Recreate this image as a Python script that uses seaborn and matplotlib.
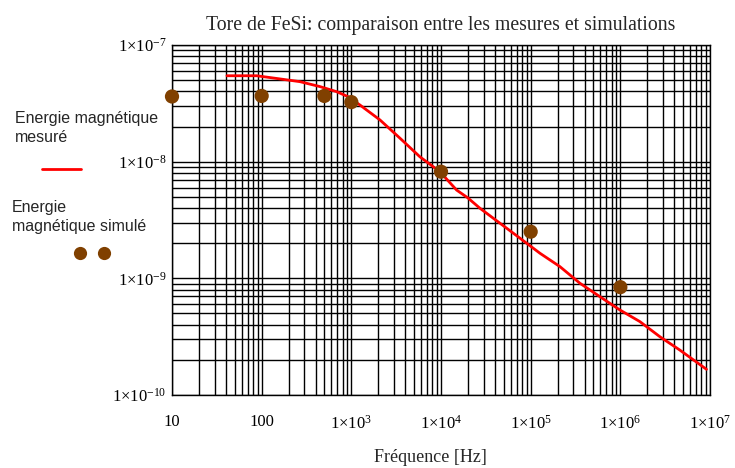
"""
Tore de FeSi: energie magnetique mesuree vs simulee (log-log)
"""

import matplotlib
matplotlib.use("Agg")
import matplotlib.pyplot as plt
import seaborn as sns
import pandas as pd
from matplotlib.lines import Line2D
from matplotlib.ticker import FixedLocator, FixedFormatter, LogLocator, NullFormatter

# measured curve
freq_mesure = [41, 88, 160, 267, 447, 686, 916, 1247, 2084, 3484, 5823, 9730,
               14930, 19950, 27150, 45400, 75900, 1.27e5, 2.12e5, 3.54e5,
               5.91e5, 9.87e5, 1.65e6, 2.76e6, 4.60e6, 9.14e6]
energie_mesure = [5.45e-8, 5.45e-8, 5.12e-8, 4.85e-8, 4.40e-8, 3.98e-8, 3.61e-8,
                  3.06e-8, 2.28e-8, 1.59e-8, 1.10e-8, 8.20e-9, 5.71e-9, 4.89e-9,
                  3.99e-9, 2.97e-9, 2.21e-9, 1.64e-9, 1.26e-9, 9.08e-10,
                  6.97e-10, 5.36e-10, 4.26e-10, 3.16e-10, 2.43e-10, 1.66e-10]

# simulated points
freq_simule = [10, 100, 500, 1000, 1e4, 1e5, 1e6]
energie_simule = [3.62e-8, 3.66e-8, 3.66e-8, 3.24e-8, 8.2e-9, 2.51e-9, 8.4e-10]

x_ticks = [10, 100, 1e3, 1e4, 1e5, 1e6, 1e7]
x_labels = ["10", "100", r"$1{\times}10^{3}$", r"$1{\times}10^{4}$",
            r"$1{\times}10^{5}$", r"$1{\times}10^{6}$", r"$1{\times}10^{7}$"]
y_ticks = [1e-10, 1e-9, 1e-8, 1e-7]
y_labels = [r"$1{\times}10^{-10}$", r"$1{\times}10^{-9}$",
            r"$1{\times}10^{-8}$", r"$1{\times}10^{-7}$"]

RED = "#ff0000"
BROWN = "#804000"

sns.set_style("white")
plt.rcParams["font.family"] = ["Liberation Serif", "DejaVu Serif"]
plt.rcParams["mathtext.fontset"] = "custom"
plt.rcParams["mathtext.rm"] = "Liberation Serif"
plt.rcParams["mathtext.it"] = "Liberation Serif"

df_mes = pd.DataFrame({"f": freq_mesure, "E": energie_mesure})
df_sim = pd.DataFrame({"f": freq_simule, "E": energie_simule})

fig = plt.figure(figsize=(7.35, 4.68), dpi=100)
ax = fig.add_axes([172 / 735, 1 - 395 / 468, 538 / 735, 350 / 468])

ax.set_xscale("log")
ax.set_yscale("log")
ax.set_xlim(10, 1e7)
ax.set_ylim(1e-10, 1e-7)

ax.xaxis.set_major_locator(FixedLocator(x_ticks))
ax.xaxis.set_major_formatter(FixedFormatter(x_labels))
ax.yaxis.set_major_locator(FixedLocator(y_ticks))
ax.yaxis.set_major_formatter(FixedFormatter(y_labels))
ax.xaxis.set_minor_locator(LogLocator(base=10, subs=range(2, 10), numticks=20))
ax.yaxis.set_minor_locator(LogLocator(base=10, subs=range(2, 10), numticks=20))
ax.xaxis.set_minor_formatter(NullFormatter())
ax.yaxis.set_minor_formatter(NullFormatter())
ax.grid(which="both", color="black", linewidth=1.0)
ax.set_axisbelow(True)
ax.tick_params(which="both", length=0, labelsize=12, colors="black")
ax.tick_params(axis="x", pad=14)
ax.tick_params(axis="y", pad=4)
for s in ax.spines.values():
    s.set_color("black")
    s.set_linewidth(1.0)

sns.lineplot(data=df_mes, x="f", y="E", ax=ax, color=RED, linewidth=2.0,
             estimator=None, sort=False, zorder=3)
sns.scatterplot(data=df_sim, x="f", y="E", ax=ax, color=BROWN, s=105,
                edgecolor="none", zorder=4, clip_on=False)

ax.set_xlabel("Fréquence [Hz]", fontsize=13)
ax.xaxis.set_label_coords((430 - 172) / 538, -(449 - 395) / 350)
ax.set_ylabel("")
ax.set_title("Tore de FeSi: comparaison entre les mesures et simulations",
             fontsize=14.2, pad=11)

# hand-made legend on the left side
sans = ["Liberation Sans", "DejaVu Sans"]
fig.text(15 / 735, 1 - 128 / 468, "Energie magnétique\nmesuré", family=sans,
         fontsize=11.5, va="center", ha="left", linespacing=1.3)
fig.add_artist(Line2D([42 / 735, 81 / 735], [1 - 169 / 468, 1 - 169 / 468],
                      color=RED, linewidth=2.0, transform=fig.transFigure))
fig.text(12 / 735, 1 - 217 / 468, "Energie\nmagnétique simulé", family=sans,
         fontsize=11.5, va="center", ha="left", linespacing=1.3)
fig.add_artist(Line2D([80 / 735, 104 / 735], [1 - 253 / 468, 1 - 253 / 468],
                      color=BROWN, linestyle="none", marker="o", markersize=9.5,
                      markeredgecolor="none", transform=fig.transFigure))

fig.savefig("out.png", dpi=100)
plt.close(fig)
